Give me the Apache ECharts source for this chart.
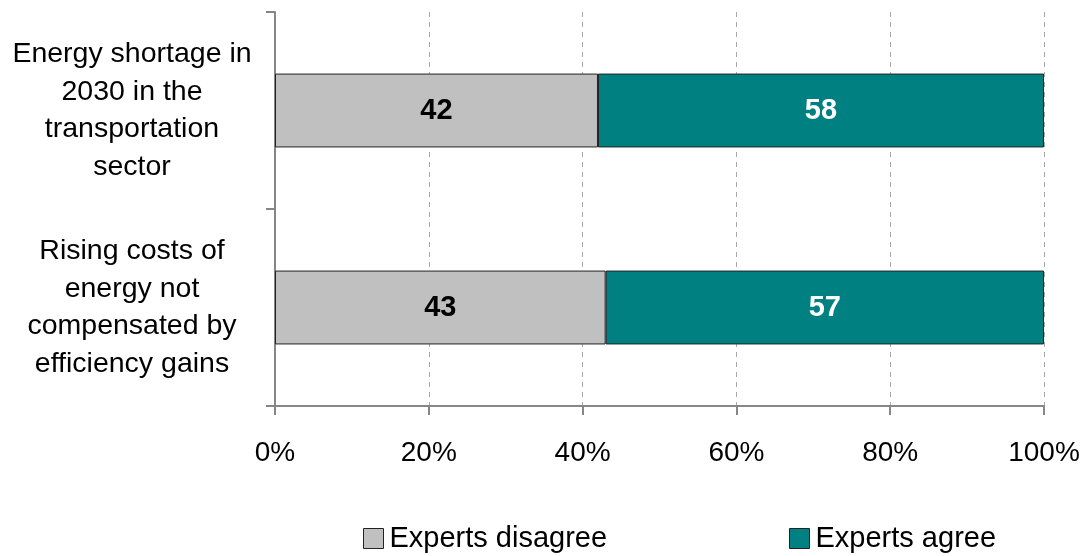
<!DOCTYPE html>
<html>
<head>
<meta charset="utf-8">
<script src="https://cdn.jsdelivr.net/npm/echarts@6/dist/echarts.min.js"></script>
<style>
  html, body { margin: 0; padding: 0; background: #fff; }
  #chart { width: 1088px; height: 556px; }
</style>
</head>
<body>
<div id="chart"></div>
<script>
var categories = [
  'Energy shortage in\n2030 in the\ntransportation\nsector',
  'Rising costs of\nenergy not\ncompensated by\nefficiency gains'
];
var disagree = [42, 43];
var agree = [58, 57];
var xTicks = [0, 20, 40, 60, 80, 100];

var chart = echarts.init(document.getElementById('chart'));
var font = 'Liberation Sans, Arial, sans-serif';

var option = {
  animation: false,
  grid: { left: 275, right: 44, top: 12, bottom: 150 },
  legend: [
    {
      left: 358, top: 519, itemWidth: 20, itemHeight: 20, itemGap: 0,
      icon: 'rect',
      data: ['Experts disagree'],
      itemStyle: { borderColor: '#222', borderWidth: 1 },
      textStyle: { fontFamily: font, fontSize: 29, color: '#000', padding: [0, 0, 0, 1] }
    },
    {
      left: 784, top: 519, itemWidth: 20, itemHeight: 20, itemGap: 0,
      icon: 'rect',
      data: ['Experts agree'],
      itemStyle: { borderColor: '#222', borderWidth: 1 },
      textStyle: { fontFamily: font, fontSize: 29, color: '#000', padding: [0, 0, 0, 1] }
    }
  ],
  xAxis: {
    type: 'value',
    min: xTicks[0],
    max: xTicks[xTicks.length - 1],
    interval: 20,
    axisLine: { show: true, lineStyle: { color: '#868686', width: 2 } },
    axisTick: { show: true, length: 9, lineStyle: { color: '#868686', width: 2 } },
    axisLabel: {
      formatter: '{value}%', fontFamily: font, fontSize: 28, color: '#000', margin: 33
    },
    splitLine: { show: true, lineStyle: { color: '#a8a8a8', type: [5, 5], width: 1 } }
  },
  yAxis: {
    type: 'category',
    inverse: true,
    data: categories,
    axisLine: { show: true, lineStyle: { color: '#868686', width: 2 } },
    axisTick: { show: true, length: 9, lineStyle: { color: '#868686', width: 2 } },
    axisLabel: {
      fontFamily: font, fontSize: 28.5, color: '#000', align: 'center',
      lineHeight: 37.5, margin: 143, padding: [4, 0, 0, 0]
    },
    splitLine: { show: false }
  },
  series: [
    {
      name: 'Experts disagree',
      type: 'bar',
      stack: 'total',
      barWidth: '37.5%',
      data: disagree,
      itemStyle: { color: '#c0c0c0', borderColor: '#222', borderWidth: 1 },
      label: {
        show: true, position: 'inside', color: '#000', fontWeight: 'bold',
        fontFamily: font, fontSize: 29
      }
    },
    {
      name: 'Experts agree',
      type: 'bar',
      stack: 'total',
      barWidth: '37.5%',
      data: agree,
      itemStyle: { color: '#008080', borderColor: '#222', borderWidth: 1 },
      label: {
        show: true, position: 'inside', color: '#fff', fontWeight: 'bold',
        fontFamily: font, fontSize: 29
      }
    }
  ]
};

chart.setOption(option);
</script>
</body>
</html>
